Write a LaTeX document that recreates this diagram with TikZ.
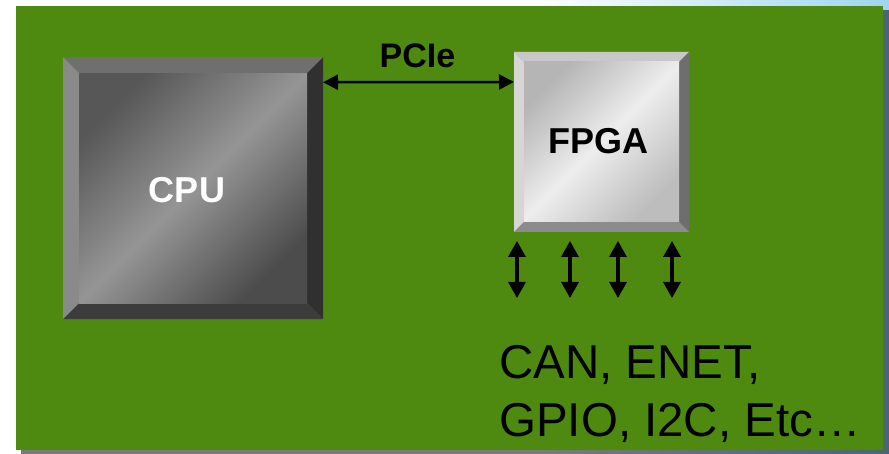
\documentclass[tikz,border=0pt]{standalone}
\usepackage{fontspec}
\setmainfont{Liberation Sans}
\usetikzlibrary{arrows.meta}
\definecolor{board}{HTML}{4F8A10}
\definecolor{skyblue}{HTML}{9DD6F0}
\definecolor{cpuT}{HTML}{6F6F6F}
\definecolor{cpuL}{HTML}{8A8A8A}
\definecolor{cpuR}{HTML}{303030}
\definecolor{cpuB}{HTML}{3C3C3C}
\definecolor{cpuF1}{HTML}{575757}
\definecolor{cpuF2}{HTML}{959595}
\definecolor{cpuF3}{HTML}{4C4C4C}
\definecolor{fpT}{HTML}{C8C8C8}
\definecolor{fpL}{HTML}{D6D6D6}
\definecolor{fpR}{HTML}{6E6E6E}
\definecolor{fpB}{HTML}{8C8C8C}
\definecolor{fpF1}{HTML}{B5B5B5}
\definecolor{fpF2}{HTML}{EDEDED}
\definecolor{fpF3}{HTML}{BDBDBD}
\newcommand\chipbevel[9]{%
  \fill[#3] (#1.north west) -- (#1.north east) -- ([xshift=-#2,yshift=-#2]#1.north east) -- ([xshift=#2,yshift=-#2]#1.north west) -- cycle;
  \fill[#4] (#1.north west) -- ([xshift=#2,yshift=-#2]#1.north west) -- ([xshift=#2,yshift=#2]#1.south west) -- (#1.south west) -- cycle;
  \fill[#5] (#1.north east) -- (#1.south east) -- ([xshift=-#2,yshift=#2]#1.south east) -- ([xshift=-#2,yshift=-#2]#1.north east) -- cycle;
  \fill[#6] (#1.south west) -- ([xshift=#2,yshift=#2]#1.south west) -- ([xshift=-#2,yshift=#2]#1.south east) -- (#1.south east) -- cycle;
  \shade[top color=#7, bottom color=#9, middle color=#8, shading angle=45]
    ([xshift=#2,yshift=-#2]#1.north west) rectangle ([xshift=-#2,yshift=#2]#1.south east);
}
\tikzset{
  chip/.style={inner sep=0pt, outer sep=0pt, draw=none},
  chiplabel/.style={inner sep=0pt, font=\fontsize{36}{36}\selectfont\bfseries},
  pcielabel/.style={inner sep=0pt, font=\fontsize{34}{34}\selectfont\bfseries},
  iolabel/.style={inner sep=0pt, align=left, font=\fontsize{47.5}{58}\selectfont},
  pcie/.style={line width=2.5pt, <->, >={Triangle[length=15pt,width=15pt]}},
  iolink/.style={line width=3.2pt, <->, >={Triangle[length=16pt,width=17pt]}},
}
\begin{document}
\begin{tikzpicture}[x=1pt,y=-1pt]
\useasboundingbox (0,0) rectangle (889,454);
% background
\fill[white] (0,0) rectangle (889,454);
\shade[left color=white, right color=skyblue] (540,0) rectangle (889,454);
% board shadow and board
\fill[black, opacity=0.52] (21,10) rectangle (889,454);
\fill[board] (16,6) rectangle (883,450);
% chips
\node[chip, minimum width=260pt, minimum height=262pt] (cpu) at (193,188.25) {};
\chipbevel{cpu}{16pt}{cpuT}{cpuL}{cpuR}{cpuB}{cpuF1}{cpuF2}{cpuF3}
\node[chip, minimum width=175pt, minimum height=180pt] (fpga) at (601.5,142) {};
\chipbevel{fpga}{10pt}{fpT}{fpL}{fpR}{fpB}{fpF1}{fpF2}{fpF3}
\node[chiplabel, text=white] (cpulbl) at ([xshift=-6pt,yshift=-2pt]cpu.center) {CPU};
\node[chiplabel, text=black] (fpgalbl) at ([xshift=-3pt,yshift=1pt]fpga.center) {FPGA};
% PCIe link
\draw[pcie] ([yshift=-25pt]cpu.north east) -- ([yshift=-30pt]fpga.north west);
\node[pcielabel] (pcielbl) at (417.5,55.7) {PCIe};
% I/O links
\coordinate (ioa1) at (517,241); \coordinate (iob1) at (517,298);
\coordinate (ioa2) at (570,241); \coordinate (iob2) at (570,298);
\coordinate (ioa3) at (618,241); \coordinate (iob3) at (618,298);
\coordinate (ioa4) at (672,241); \coordinate (iob4) at (672,298);
\draw[iolink] (ioa1) -- (iob1);
\draw[iolink] (ioa2) -- (iob2);
\draw[iolink] (ioa3) -- (iob3);
\draw[iolink] (ioa4) -- (iob4);
\node[iolabel, anchor=base west] (iolbl) at (499,436) {CAN, ENET,\\GPIO, I2C, Etc…};
\end{tikzpicture}
\end{document}
